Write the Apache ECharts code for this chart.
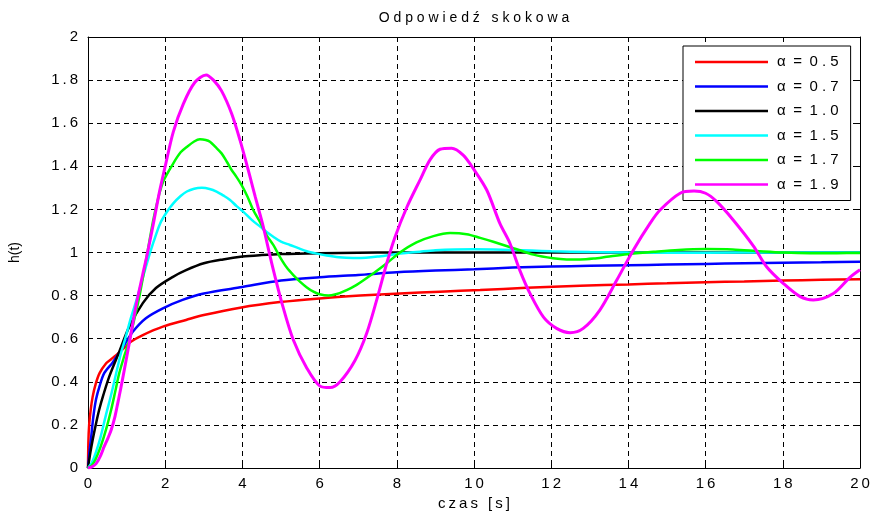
<!DOCTYPE html>
<html>
<head>
<meta charset="utf-8">
<script src="https://cdn.jsdelivr.net/npm/echarts@6/dist/echarts.min.js"></script>
<style>
html,body{margin:0;padding:0;background:#fff;}
#c{width:871px;height:513px;}
</style>
</head>
<body>
<div id="c"></div>
<script>
// ---- data: [t (s), h(t)] ----
const seriesNames = ['α\u2002=\u20020 . 5', 'α\u2002=\u20020 . 7', 'α\u2002=\u20021 . 0', 'α\u2002=\u20021 . 5', 'α\u2002=\u20021 . 7', 'α\u2002=\u20021 . 9'];
const seriesColors = ['#ff0000', '#0000ff', '#000000', '#00ffff', '#00ff00', '#ff00ff'];

const hA05 = [[0,0],[0.01,0.12],[0.03,0.2],[0.07,0.27],[0.12,0.33],[0.2,0.39],[0.3,0.44],[0.47,0.486],[0.6,0.505],[0.73,0.524],[0.98,0.563],[1.11,0.586],[1.42,0.617],[1.94,0.656],[2.54,0.687],[3.0,0.71],[3.94,0.744],[4.97,0.77],[6.0,0.787],[7.05,0.80],[8.08,0.81],[9.12,0.818],[10.16,0.826],[11.36,0.836],[12.75,0.846],[14.0,0.852],[15,0.857],[16,0.862],[17,0.866],[18,0.87],[19,0.873],[20,0.876]];

const hA07 = [[0,0],[0.04,0.08],[0.08,0.14],[0.14,0.24],[0.21,0.32],[0.3,0.38],[0.42,0.44],[0.64,0.49],[0.9,0.56],[1.16,0.632],[1.5,0.695],[1.94,0.741],[2.45,0.78],[3,0.81],[4,0.84],[5,0.87],[6,0.885],[7,0.896],[8,0.908],[9,0.916],[10,0.922],[11,0.93],[12,0.935],[13,0.938],[14,0.941],[15,0.944],[16,0.947],[17,0.95],[18,0.953],[19,0.955],[20,0.957]];

const hA10 = [[0,0],[0.06,0.07],[0.12,0.13],[0.2,0.2],[0.29,0.27],[0.4,0.34],[0.55,0.424],[0.81,0.54],[1.07,0.656],[1.42,0.765],[1.76,0.835],[2.19,0.886],[2.54,0.918],[3,0.95],[3.5,0.968],[4,0.981],[4.5,0.988],[5,0.993],[6,0.997],[7,0.999],[8,1],[10,1],[12,1],[14,1],[16,1],[18,1],[20,1]];

const hA15 = [[0,0],[0.1,0.025],[0.2,0.07],[0.32,0.14],[0.47,0.25],[0.6,0.34],[0.73,0.44],[0.85,0.53],[0.98,0.61],[1.1,0.69],[1.24,0.77],[1.4,0.87],[1.55,0.965],[1.7,1.05],[1.87,1.135],[2.05,1.19],[2.21,1.228],[2.4,1.262],[2.56,1.283],[2.75,1.296],[2.95,1.30],[3.15,1.295],[3.33,1.283],[3.5,1.265],[3.68,1.244],[3.85,1.215],[4.02,1.19],[4.25,1.15],[4.46,1.12],[4.63,1.095],[4.8,1.073],[5.0,1.05],[5.23,1.035],[5.45,1.02],[5.67,1.006],[5.9,0.996],[6.18,0.986],[6.5,0.978],[6.87,0.975],[7.2,0.976],[7.5,0.981],[7.91,0.991],[8.3,0.999],[8.6,1.004],[9,1.01],[9.5,1.014],[10,1.015],[10.5,1.014],[11,1.012],[11.5,1.009],[12,1.006],[13,1.002],[14,1.0],[16,0.999],[18,1.0],[20,1.0]];

const hA17 = [[0,0],[0.1,0.013],[0.2,0.042],[0.33,0.1],[0.47,0.18],[0.6,0.27],[0.7,0.35],[0.81,0.44],[0.94,0.52],[1.07,0.594],[1.2,0.69],[1.33,0.795],[1.5,0.96],[1.69,1.15],[1.83,1.26],[1.95,1.33],[2.21,1.414],[2.4,1.465],[2.56,1.49],[2.75,1.515],[2.9,1.525],[3.05,1.522],[3.16,1.514],[3.3,1.49],[3.46,1.46],[3.6,1.42],[3.72,1.383],[3.85,1.35],[3.98,1.313],[4.13,1.26],[4.28,1.197],[4.46,1.14],[4.63,1.08],[4.8,1.035],[4.97,0.98],[5.15,0.93],[5.32,0.895],[5.49,0.865],[5.67,0.838],[5.84,0.818],[6.0,0.806],[6.23,0.80],[6.42,0.806],[6.61,0.818],[6.96,0.85],[7.39,0.903],[7.74,0.95],[8.08,1.0],[8.51,1.047],[8.95,1.076],[9.38,1.09],[9.81,1.085],[10.16,1.068],[10.5,1.05],[11.02,1.02],[11.54,0.99],[12.05,0.973],[12.4,0.968],[12.75,0.968],[13.1,0.972],[13.44,0.98],[13.96,0.992],[14.65,1.003],[15.3,1.012],[16,1.016],[16.7,1.014],[17.4,1.006],[18,1.0],[18.7,0.997],[19.4,0.997],[20,0.998]];

const hA19 = [[0,0],[0.1,0.005],[0.21,0.02],[0.32,0.055],[0.42,0.1],[0.52,0.14],[0.6,0.176],[0.7,0.24],[0.77,0.3],[0.85,0.37],[0.94,0.455],[1.07,0.58],[1.24,0.75],[1.42,0.9],[1.52,0.98],[1.69,1.13],[1.85,1.28],[2.0,1.40],[2.21,1.56],[2.47,1.69],[2.77,1.79],[3.06,1.824],[3.25,1.80],[3.46,1.75],[3.72,1.645],[3.94,1.52],[4.2,1.35],[4.33,1.26],[4.54,1.12],[4.76,0.95],[5.04,0.755],[5.32,0.594],[5.67,0.463],[6.01,0.38],[6.27,0.373],[6.53,0.40],[6.92,0.50],[7.22,0.625],[7.48,0.78],[7.74,0.95],[7.95,1.07],[8.26,1.21],[8.6,1.336],[8.86,1.43],[9.12,1.479],[9.42,1.484],[9.72,1.452],[9.98,1.39],[10.33,1.29],[10.67,1.135],[10.93,1.043],[11.19,0.916],[11.45,0.81],[11.8,0.70],[12.14,0.648],[12.49,0.628],[12.83,0.648],[13.26,0.733],[13.7,0.872],[14.13,1.012],[14.56,1.135],[14.82,1.197],[15.34,1.275],[15.7,1.285],[16.0,1.275],[16.29,1.236],[16.72,1.15],[17.24,1.03],[17.58,0.934],[18.01,0.857],[18.45,0.795],[18.79,0.78],[19.31,0.81],[19.74,0.885],[20,0.92]];

const seriesData = [hA05, hA07, hA10, hA15, hA17, hA19];

const titleText = 'Odpowiedź skokowa';
const xName = 'czas [s]';
const yName = 'h(t)';
const xTicks = {min: 0, max: 20, interval: 2};
const yTicks = {min: 0, max: 2, interval: 0.2};

// ---- chart ----
const FONT = '"Liberation Sans", Arial, sans-serif';
const spaced = (s, sep) => s.split('').join(sep);
const tickFmt = v => spaced(String(Math.round(v * 10) / 10), '\u2009');

const chart = echarts.init(document.getElementById('c'), null, {renderer: 'canvas'});

const gridLine = {show: true, lineStyle: {color: '#000', width: 1, type: [5, 4]}};
const GRID = {left: 88, right: 11, top: 37, bottom: 45};

const option = {
  backgroundColor: '#fff',
  animation: false,
  graphic: [{
    type: 'text',
    x: GRID.left + (871 - GRID.left - GRID.right) / 2,
    y: 18,
    style: {
      text: spaced(titleText, ' '),
      fontFamily: FONT, fontSize: 14, fill: '#000',
      align: 'center', verticalAlign: 'middle'
    }
  }],
  grid: Object.assign({containLabel: false, outerBoundsMode: 'none'}, GRID),
  legend: {
    orient: 'vertical',
    left: 683,
    top: 46,
    padding: [7, 12, 7, 12],
    itemWidth: 73,
    itemHeight: 18,
    itemGap: 6.5,
    icon: 'path://M0,0 L73,0 L73,2.6 L0,2.6 Z',
    backgroundColor: '#fff',
    borderColor: '#000',
    borderWidth: 1,
    borderRadius: 0,
    textStyle: {fontFamily: FONT, fontSize: 15, color: '#000', lineHeight: 18, padding: [0, 0, 0, 4]},
    data: seriesNames
  },
  xAxis: [{
    type: 'value', position: 'bottom',
    min: xTicks.min, max: xTicks.max, interval: xTicks.interval,
    name: spaced(xName, '\u2009'), nameLocation: 'middle', nameGap: 27,
    nameTextStyle: {fontFamily: FONT, fontSize: 15, color: '#000'},
    axisLine: {show: true, onZero: false, lineStyle: {color: '#000', width: 1}},
    axisTick: {show: true, inside: true, length: 5, lineStyle: {color: '#000'}},
    axisLabel: {fontFamily: FONT, fontSize: 15, color: '#000', margin: 8, formatter: tickFmt},
    splitLine: gridLine
  }, {
    type: 'value', position: 'top',
    min: xTicks.min, max: xTicks.max, interval: xTicks.interval,
    axisLine: {show: true, onZero: false, lineStyle: {color: '#000', width: 1}},
    axisTick: {show: true, inside: true, length: 5, lineStyle: {color: '#000'}},
    axisLabel: {show: false},
    splitLine: {show: false}
  }],
  yAxis: [{
    type: 'value', position: 'left',
    min: yTicks.min, max: yTicks.max, interval: yTicks.interval,
    name: yName, nameLocation: 'middle', nameGap: 66, nameRotate: 90,
    nameTextStyle: {fontFamily: FONT, fontSize: 14, color: '#000'},
    axisLine: {show: true, onZero: false, lineStyle: {color: '#000', width: 1}},
    axisTick: {show: true, inside: true, length: 5, lineStyle: {color: '#000'}},
    axisLabel: {fontFamily: FONT, fontSize: 15, color: '#000', margin: 10, formatter: tickFmt},
    splitLine: gridLine
  }, {
    type: 'value', position: 'right',
    min: yTicks.min, max: yTicks.max, interval: yTicks.interval,
    axisLine: {show: true, onZero: false, lineStyle: {color: '#000', width: 1}},
    axisTick: {show: true, inside: true, length: 5, lineStyle: {color: '#000'}},
    axisLabel: {show: false},
    splitLine: {show: false}
  }],
  series: seriesData.map((d, i) => ({
    name: seriesNames[i],
    type: 'line',
    xAxisIndex: 0,
    yAxisIndex: 0,
    data: d,
    symbol: 'none',
    smooth: 0.3,
    color: seriesColors[i],
    itemStyle: {color: seriesColors[i]},
    lineStyle: {color: seriesColors[i], width: i === 5 ? 3 : 2.5},
    z: 2 + i
  }))
};

chart.setOption(option);
</script>
</body>
</html>
